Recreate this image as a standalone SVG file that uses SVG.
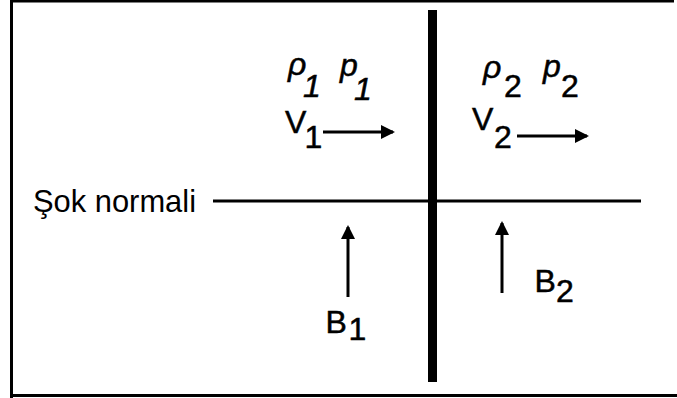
<svg xmlns="http://www.w3.org/2000/svg" width="677" height="398" viewBox="0 0 677 398">
<style>
text{font-family:"Liberation Sans",Arial,sans-serif;font-size:32px;fill:#000}
.sym{stroke:#000;stroke-width:0.5}
.it{font-style:italic}
.ln{stroke:#000;fill:none}
</style>
<defs>
<marker id="ah" markerWidth="14" markerHeight="14" refX="12" refY="7" orient="auto" markerUnits="userSpaceOnUse">
<path d="M0,0 L14,7 L0,14 Z" fill="#000"/>
</marker>
</defs>
<rect width="677" height="398" fill="#fff"/>
<g id="frame">
<path class="ln" d="M11.5,398 V1 H674" stroke-width="3"/>
<path class="ln" d="M10,395.5 H677" stroke-width="3"/>
</g>
<g id="shock">
<line class="ln" x1="432.5" y1="10" x2="432.5" y2="382" stroke-width="9"/>
</g>
<g id="normal">
<line class="ln" x1="213" y1="201" x2="641" y2="201" stroke-width="3"/>
<text x="33" y="212" textLength="163" lengthAdjust="spacingAndGlyphs" font-size="27">Şok normali</text>
</g>
<g id="region1" class="sym">
<text class="it" x="288" y="75">ρ</text>
<text class="it" x="303" y="97">1</text>
<text class="it" x="340" y="76">p</text>
<text class="it" x="354" y="100">1</text>
<text x="285" y="133">V</text>
<text x="304.5" y="148">1</text>
<text x="325.5" y="333">B</text>
<text x="348.5" y="340">1</text>
</g>
<g id="region2" class="sym">
<text class="it" x="483" y="78">ρ</text>
<text x="504" y="97">2</text>
<text class="it" x="543" y="77">p</text>
<text x="561" y="97">2</text>
<text x="472" y="130">V</text>
<text x="494" y="148">2</text>
<text x="534.5" y="292">B</text>
<text x="556" y="302">2</text>
</g>
<g id="connectors">
<line class="ln" x1="323" y1="132" x2="393" y2="132" stroke-width="3" marker-end="url(#ah)"/>
<line class="ln" x1="517" y1="136" x2="587" y2="136" stroke-width="3" marker-end="url(#ah)"/>
<line class="ln" x1="348" y1="297" x2="348" y2="227" stroke-width="3" marker-end="url(#ah)"/>
<line class="ln" x1="502" y1="293" x2="502" y2="223" stroke-width="3" marker-end="url(#ah)"/>
</g>
</svg>
